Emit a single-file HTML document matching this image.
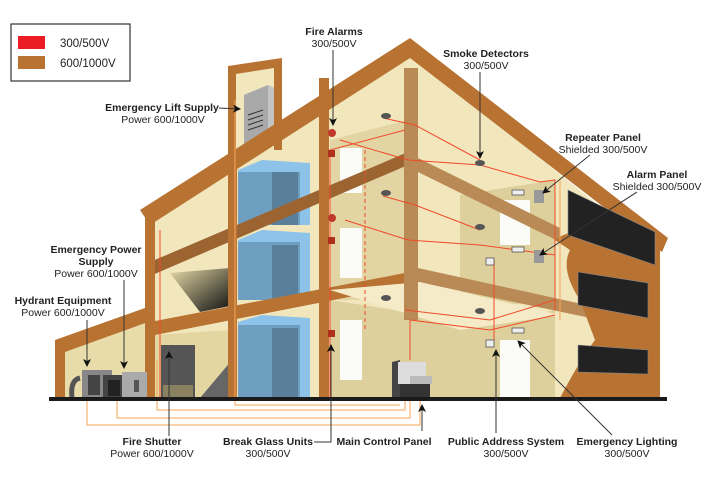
<!DOCTYPE html>
<html><head><meta charset="utf-8"><style>
html,body{margin:0;padding:0;background:#fff}
svg{display:block}
text{font-family:"Liberation Sans",Arial,sans-serif;font-size:10.5px;fill:#222}
.b{font-weight:bold}
</style></head><body>
<svg width="706" height="479" viewBox="0 0 706 479" xmlns="http://www.w3.org/2000/svg">
<defs>
<marker id="ar" markerWidth="8" markerHeight="8" refX="7" refY="4" orient="auto" markerUnits="userSpaceOnUse"><path d="M0,0 L8,4 L0,8 L2,4 z" fill="#111"/></marker>
<linearGradient id="st" x1="0" y1="0" x2="1" y2="1"><stop offset="0" stop-color="#e8dca8"/><stop offset="1" stop-color="#111"/></linearGradient>
</defs>
<!-- legend -->
<rect x="11" y="24" width="119" height="57" fill="#fff" stroke="#333" stroke-width="1.2"/>
<rect x="18" y="36" width="27" height="13" fill="#ec1c24"/>
<rect x="18" y="56" width="27" height="13" fill="#b87333"/>
<text x="60" y="47" style="font-size:11.5px">300/500V</text>
<text x="60" y="67" style="font-size:11.5px">600/1000V</text>

<!-- interior fills -->
<polygon points="150,222 410,55 655,250 655,398 150,398" fill="#f2e6bd"/>
<polygon points="57,350 145,318 150,398 57,398" fill="#e9dcab"/>
<polygon points="236,72 280,66 280,150 236,160" fill="#f2e6bd"/>
<!-- tan back walls right rooms -->
<polygon points="460,195 555,180 555,300 460,310" fill="#ddd09c"/>
<polygon points="460,330 555,310 555,398 460,398" fill="#ddd09c"/>
<polygon points="330,140 408,120 408,300 330,300" fill="#e2d5a3"/>
<polygon points="330,300 460,320 460,398 330,398" fill="#ddd09c"/>
<!-- windows white -->
<rect x="340" y="148" width="22" height="45" fill="#fbfbf8"/>
<rect x="340" y="228" width="22" height="50" fill="#fbfbf8"/>
<rect x="340" y="320" width="22" height="60" fill="#fbfbf8"/>
<rect x="500" y="200" width="30" height="45" fill="#fbfbf8"/>
<rect x="500" y="340" width="30" height="58" fill="#fbfbf8"/>
<!-- left stair -->
<polygon points="170,273 230,268 230,306 200,312" fill="url(#st)"/>
<polygon points="155,335 230,330 230,398 155,398" fill="#e4d6a0"/>
<polygon points="200,398 232,360 232,398" fill="#666"/>
<rect x="161" y="345" width="34" height="53" fill="#555"/>
<rect x="163" y="385" width="30" height="13" fill="#8a8160"/>
<!-- lift machine -->
<polygon points="244,95 268,85 275,88 275,140 244,150" fill="#c4c4c4"/>
<polygon points="244,95 268,85 268,140 244,150" fill="#a9a9a9"/>
<g stroke="#333" stroke-width="1"><line x1="248" y1="115" x2="263" y2="110"/><line x1="248" y1="120" x2="263" y2="115"/><line x1="248" y1="125" x2="263" y2="120"/><line x1="248" y1="130" x2="263" y2="125"/></g>
<!-- elevators -->
<g>
<polygon points="238,170 262,160 310,163 310,225 238,225" fill="#8dc3e8"/><rect x="238" y="172" width="62" height="53" fill="#6f9fc0"/><rect x="272" y="172" width="26" height="53" fill="#5a7f9b"/>
<polygon points="238,240 262,230 310,233 310,300 238,300" fill="#8dc3e8"/><rect x="238" y="242" width="62" height="58" fill="#6f9fc0"/><rect x="272" y="245" width="26" height="55" fill="#5a7f9b"/>
<polygon points="238,322 262,315 310,318 310,398 238,398" fill="#8dc3e8"/><rect x="238" y="325" width="62" height="73" fill="#6f9fc0"/><rect x="272" y="328" width="26" height="70" fill="#5a7f9b"/>
</g>
<!-- floor bands -->
<polygon points="150,262 408,152 408,165 150,276" fill="#9c6431"/>
<polygon points="150,322 410,272 410,285 150,336" fill="#b87333"/>
<polygon points="418,158 560,228 560,242 418,172" fill="#b98a55"/>
<polygon points="418,268 600,308 600,320 418,282" fill="#b98a55"/>
<polygon points="330,290 420,282 560,315 460,330" fill="#f5ebc8"/>
<!-- columns -->
<rect x="228" y="150" width="9" height="248" fill="#b87333"/>
<rect x="319" y="78" width="10" height="320" fill="#b87333"/>
<rect x="404" y="68" width="14" height="252" fill="#b98a55"/>
<rect x="145" y="215" width="10" height="183" fill="#b87333"/>
<!-- roofs -->
<polygon points="140,210 410,38 668,238 662,252 410,58 150,225" fill="#b87333"/>
<polygon points="228,66 282,58 282,150 274,150 274,68 236,74 236,160 228,160" fill="#b87333"/>
<polygon points="55,340 145,308 148,322 65,352 65,398 55,398" fill="#b87333"/>
<!-- right wall with windows -->
<path d="M555,240 Q580,220 660,240 L660,398 L560,398 Q580,360 595,340 Q580,300 580,300 Q560,270 570,250 Z" fill="#b87333"/>
<g fill="#222" stroke="#888" stroke-width="0.6">
<polygon points="568,190 655,232 655,265 568,235"/>
<polygon points="578,272 648,283 648,318 578,305"/>
<polygon points="578,345 648,350 648,374 578,372"/>
</g>
<!-- equipment -->
<rect x="82" y="370" width="30" height="28" fill="#888"/><rect x="88" y="375" width="12" height="20" fill="#444"/>
<rect x="103" y="375" width="22" height="23" fill="#444"/><rect x="108" y="380" width="12" height="16" fill="#222"/>
<rect x="122" y="372" width="25" height="26" fill="#aaa"/><rect x="134" y="380" width="5" height="12" fill="#555"/>
<path d="M72,398 Q70,380 80,378" stroke="#555" stroke-width="5" fill="none"/>
<!-- main control panel -->
<polygon points="392,362 400,360 400,398 392,398" fill="#444"/>
<rect x="398" y="362" width="28" height="22" fill="#ddd"/><rect x="400" y="384" width="30" height="14" fill="#333"/>
<rect x="410" y="376" width="22" height="8" fill="#bbb"/>
<!-- wiring -->
<g stroke="#f04a2a" stroke-width="1" fill="none">
<polyline points="330,400 330,150 405,130"/>
<polyline points="340,140 408,160 480,165 540,182 555,180 555,310"/>
<polyline points="345,220 408,240 480,245 555,255"/>
<polyline points="405,310 490,320 555,300"/>
<polyline points="410,360 410,320 490,330 555,315"/>
<line x1="494" y1="260" x2="494" y2="340"/>
<polyline points="383,118 415,125 480,160"/>
<polyline points="383,196 415,205 480,230"/>
<line x1="365" y1="150" x2="365" y2="330" stroke-dasharray="4,3"/>
<polyline points="160,230 160,398"/>
</g>
<g stroke="#f7a55a" stroke-width="1" fill="none">
<polyline points="235,100 235,398"/>
<polyline points="87,398 87,425 420,425 420,398"/>
<polyline points="117,398 117,418 410,418 410,398"/>
<polyline points="157,360 157,410 405,410 405,398"/>
<polyline points="235,398 235,405 400,405"/>
<line x1="560" y1="180" x2="560" y2="320"/>
</g>
<!-- devices -->
<g fill="#c0392b"><circle cx="332" cy="133" r="4"/><circle cx="332" cy="218" r="4"/></g>
<g fill="#b03020"><rect x="328" y="150" width="7" height="7"/><rect x="328" y="237" width="7" height="7"/><rect x="328" y="330" width="7" height="7"/></g>
<g fill="#555"><ellipse cx="386" cy="116" rx="5" ry="3"/><ellipse cx="480" cy="163" rx="5" ry="3"/><ellipse cx="386" cy="193" rx="5" ry="3"/><ellipse cx="480" cy="227" rx="5" ry="3"/><ellipse cx="386" cy="298" rx="5" ry="3"/><ellipse cx="480" cy="311" rx="5" ry="3"/></g>
<g fill="#999"><rect x="534" y="190" width="10" height="13"/><rect x="534" y="250" width="10" height="13"/></g>
<g fill="#eee" stroke="#444" stroke-width="0.7"><rect x="512" y="190" width="12" height="5"/><rect x="512" y="247" width="12" height="5"/><rect x="512" y="328" width="12" height="5"/><rect x="486" y="258" width="8" height="7"/><rect x="486" y="340" width="8" height="7"/></g>
<!-- ground -->
<rect x="49" y="397" width="618" height="4" fill="#1a1a1a"/>

<!-- labels -->
<g text-anchor="middle">
<text class="b" x="334" y="35">Fire Alarms</text><text x="334" y="47">300/500V</text>
<text class="b" x="486" y="57">Smoke Detectors</text><text x="486" y="69">300/500V</text>
<text class="b" x="603" y="141">Repeater Panel</text><text x="603" y="153">Shielded 300/500V</text>
<text class="b" x="657" y="178">Alarm Panel</text><text x="657" y="190">Shielded 300/500V</text>
<text class="b" x="162" y="111">Emergency Lift Supply</text><text x="163" y="123">Power 600/1000V</text>
<text class="b" x="96" y="253">Emergency Power</text><text class="b" x="96" y="265">Supply</text><text x="96" y="277">Power 600/1000V</text>
<text class="b" x="63" y="304">Hydrant Equipment</text><text x="63" y="316">Power 600/1000V</text>
<text class="b" x="152" y="445">Fire Shutter</text><text x="152" y="457">Power 600/1000V</text>
<text class="b" x="268" y="445">Break Glass Units</text><text x="268" y="457">300/500V</text>
<text class="b" x="384" y="445">Main Control Panel</text>
<text class="b" x="506" y="445">Public Address System</text><text x="506" y="457">300/500V</text>
<text class="b" x="627" y="445">Emergency Lighting</text><text x="627" y="457">300/500V</text>
</g>
<!-- arrows -->
<g stroke="#333" stroke-width="1" fill="none" marker-end="url(#ar)">
<line x1="333" y1="50" x2="333" y2="125"/>
<line x1="480" y1="72" x2="480" y2="158"/>
<line x1="219" y1="108" x2="240" y2="109"/>
<line x1="590" y1="155" x2="543" y2="193"/>
<line x1="637" y1="192" x2="540" y2="255"/>
<line x1="124" y1="280" x2="124" y2="368"/>
<line x1="87" y1="320" x2="87" y2="366"/>
<line x1="169" y1="436" x2="169" y2="352"/>
<polyline points="314,442 331,442 331,345"/>
<line x1="422" y1="431" x2="422" y2="405"/>
<line x1="496" y1="433" x2="496" y2="350"/>
<line x1="612" y1="435" x2="518" y2="341"/>
</g>
</svg>
</body></html>
